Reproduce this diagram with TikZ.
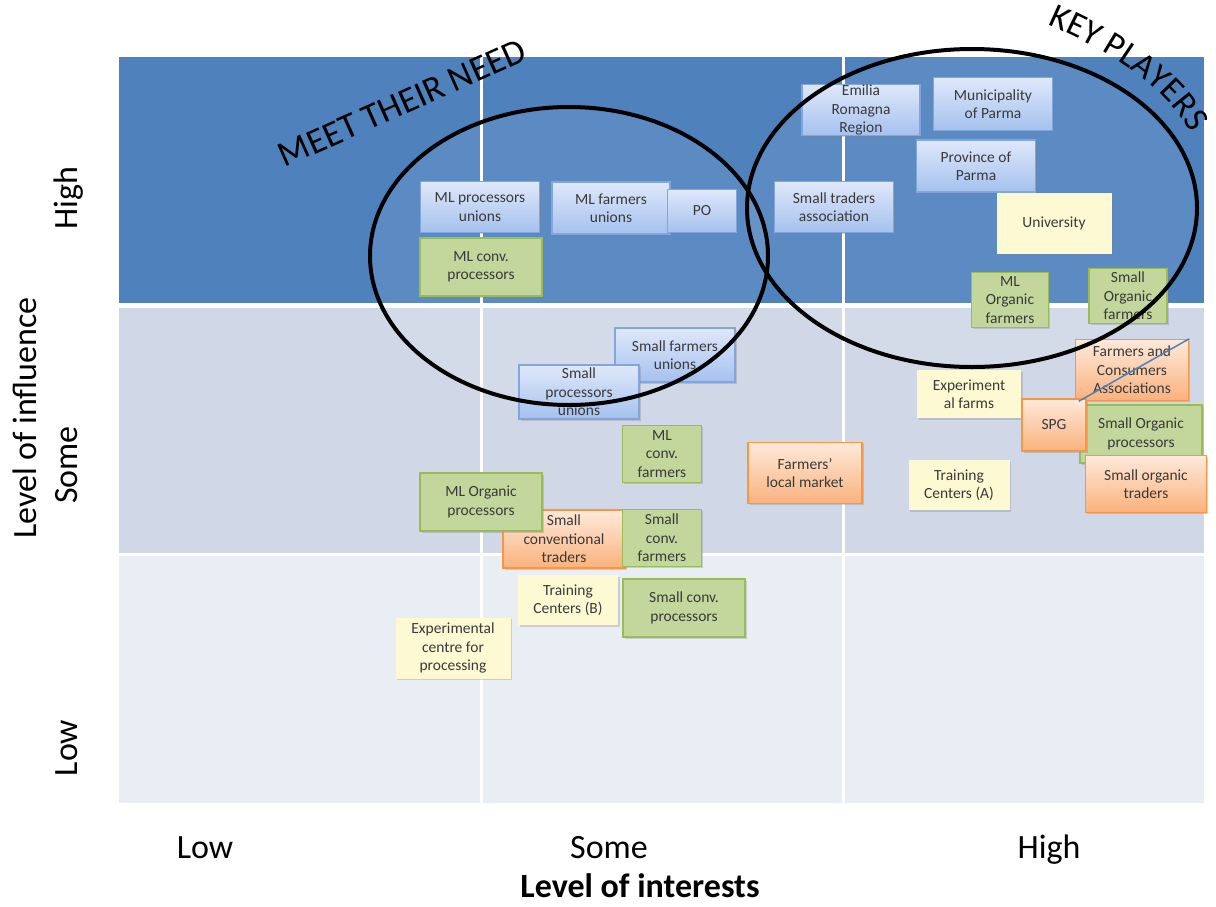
\documentclass[tikz,border=0pt]{standalone}
\usepackage{fontspec}
\setmainfont{Carlito}
\usepackage{tikz}
\usetikzlibrary{shadows, decorations.text}
\definecolor{bandHigh}{HTML}{4F81BD}
\definecolor{bandSome}{HTML}{D0D8E8}
\definecolor{bandLow}{HTML}{E9EDF4}
\definecolor{boxText}{HTML}{3A3A3A}
\definecolor{blueTop}{HTML}{DFE8FA}
\definecolor{blueBottom}{HTML}{A5C1EE}
\definecolor{blueLine}{HTML}{82A6DB}
\definecolor{greenFill}{HTML}{C3D69B}
\definecolor{greenLine}{HTML}{9BBB59}
\definecolor{yellowFill}{HTML}{FDF9D2}
\definecolor{orangeTop}{HTML}{FEE9DA}
\definecolor{orangeBottom}{HTML}{FAB27D}
\definecolor{orangeLine}{HTML}{F79646}
\tikzset{
  actor/.style={rectangle, align=center, inner sep=0pt, text=boxText,
    font=\fontsize{15.5}{18.5}\selectfont, line width=1.5,
    drop shadow={shadow xshift=1.5pt, shadow yshift=-1.5pt, opacity=0.3}},
  bluebox/.style={actor, top color=blueTop, bottom color=blueBottom, draw=blueLine},
  greenbox/.style={actor, fill=greenFill, draw=greenLine},
  yellowbox/.style={actor, fill=yellowFill},
  orangebox/.style={actor, top color=orangeTop, bottom color=orangeBottom, draw=orangeLine},
  axislabel/.style={font=\fontsize{34}{40}\selectfont},
}

\begin{document}
\begin{tikzpicture}[x=1pt, y=-1pt]
\useasboundingbox (0,0) rectangle (1216,906);
\fill[bandHigh] (119,57) rectangle (1204,303);
\fill[bandSome] (119,308) rectangle (1204,553);
\fill[bandLow] (119,556) rectangle (1204,803);
\foreach \x in {481,843} \draw[white, line width=3] (\x,57) -- (\x,803);
\fill[white, fill opacity=0.08] (569,256) ellipse [x radius=199, y radius=149];
\fill[white, fill opacity=0.08] (972,208) ellipse [x radius=225, y radius=159];

\node[bluebox, minimum width=118, minimum height=51] (emilia) at (861,110) {Emilia\\Romagna\\Region};
\node[bluebox, minimum width=119, minimum height=53] (municipality) at (993,104) {Municipality\\of Parma};
\node[bluebox, minimum width=119, minimum height=52] (province) at (976,166) {Province of\\Parma};
\node[bluebox, minimum width=119, minimum height=51] (traders) at (834,207) {Small traders\\association};
\node[yellowbox, minimum width=115, minimum height=61] (university) at (1054,223) {University};
\node[greenbox, minimum width=77, minimum height=55] (mlorgfarmers) at (1010,300) {ML\\Organic\\farmers};
\node[greenbox, minimum width=78, minimum height=55] (smallorgfarmers) at (1128,296) {Small\\Organic\\farmers};
\node[bluebox, minimum width=119, minimum height=51] (mlprocunions) at (480,207) {ML processors\\unions};
\node[bluebox, minimum width=118, minimum height=52] (mlfarmunions) at (611,208) {ML farmers\\unions};
\node[bluebox, minimum width=69, minimum height=43] (po) at (702,211) {PO};
\node[greenbox, minimum width=122, minimum height=58] (mlconvproc) at (481,267) {ML conv.\\processors};
\node[bluebox, minimum width=120, minimum height=54] (smallfarmunions) at (675,355) {Small farmers\\unions};
\node[bluebox, minimum width=120, minimum height=54] (smallprocunions) at (579,392) {Small\\processors\\unions};
\node[greenbox, minimum width=79, minimum height=57] (mlconvfarmers) at (662,454) {ML\\conv.\\farmers};
\node[orangebox, minimum width=114, minimum height=61] (localmarket) at (805,473) {Farmers’\\local market};
\node[orangebox, minimum width=122, minimum height=58] (smallconvtraders) at (564,539) {Small\\conventional\\traders};
\node[greenbox, minimum width=122, minimum height=58] (mlorgproc) at (481,502) {ML Organic\\processors};
\node[greenbox, minimum width=79, minimum height=57] (smallconvfarmers) at (662,538) {Small\\conv.\\farmers};
\node[yellowbox, minimum width=100, minimum height=50] (trainingB) at (568,600) {Training\\Centers (B)};
\node[greenbox, minimum width=122, minimum height=58] (smallconvproc) at (684,608) {Small conv.\\processors};
\node[yellowbox, minimum width=115, minimum height=61] (expcentre) at (453,648) {Experimental\\centre for\\processing};
\node[orangebox, minimum width=113, minimum height=61] (farmcons) at (1132,370) {Farmers and\\Consumers\\Associations};
\node[yellowbox, minimum width=104, minimum height=48] (expfarms) at (969,394) {Experiment\\al farms};
\node[greenbox, minimum width=122, minimum height=58] (smallorgproc) at (1141,434) {Small Organic\\processors};
\node[orangebox, minimum width=64, minimum height=52] (spg) at (1054,425) {SPG};
\node[orangebox, minimum width=121, minimum height=57] (smallorgtraders) at (1146,484) {Small organic\\traders};
\node[yellowbox, minimum width=101, minimum height=50] (trainingA) at (959,485) {Training\\Centers (A)};
\draw[bandHigh, line width=1.5] ([xshift=4pt]farmcons.south west) -- (farmcons.north east);

\draw[line width=4] (569,256) ellipse [x radius=199, y radius=149];
\draw[line width=4] (972,208) ellipse [x radius=225, y radius=159];
\node[axislabel, font=\fontsize{36}{40}\selectfont, rotate=24] (meetneed) at (402,103) {MEET THEIR NEED};
\path[decorate, decoration={text along path, text align=center,
  text={|\fontsize{35}{40}\selectfont|KEY PLAYERS}}]
  (1038,20) .. controls (1105,48) and (1168,85) .. (1196,142);

\foreach \lbl/\x in {Low/205, Some/609, High/1049}
  \node[axislabel, anchor=base] (x\lbl) at (\x,858) {\lbl};
\foreach \lbl/\y in {High/198, Some/465, Low/748}
  \node[axislabel, anchor=base, rotate=90] (y\lbl) at (77,\y) {\lbl};
\node[axislabel, font=\fontsize{34}{40}\selectfont\bfseries] (xtitle) at (640,886) {Level of interests};
\node[axislabel, rotate=90] (ytitle) at (25,418) {Level of influence};
\end{tikzpicture}
\end{document}
